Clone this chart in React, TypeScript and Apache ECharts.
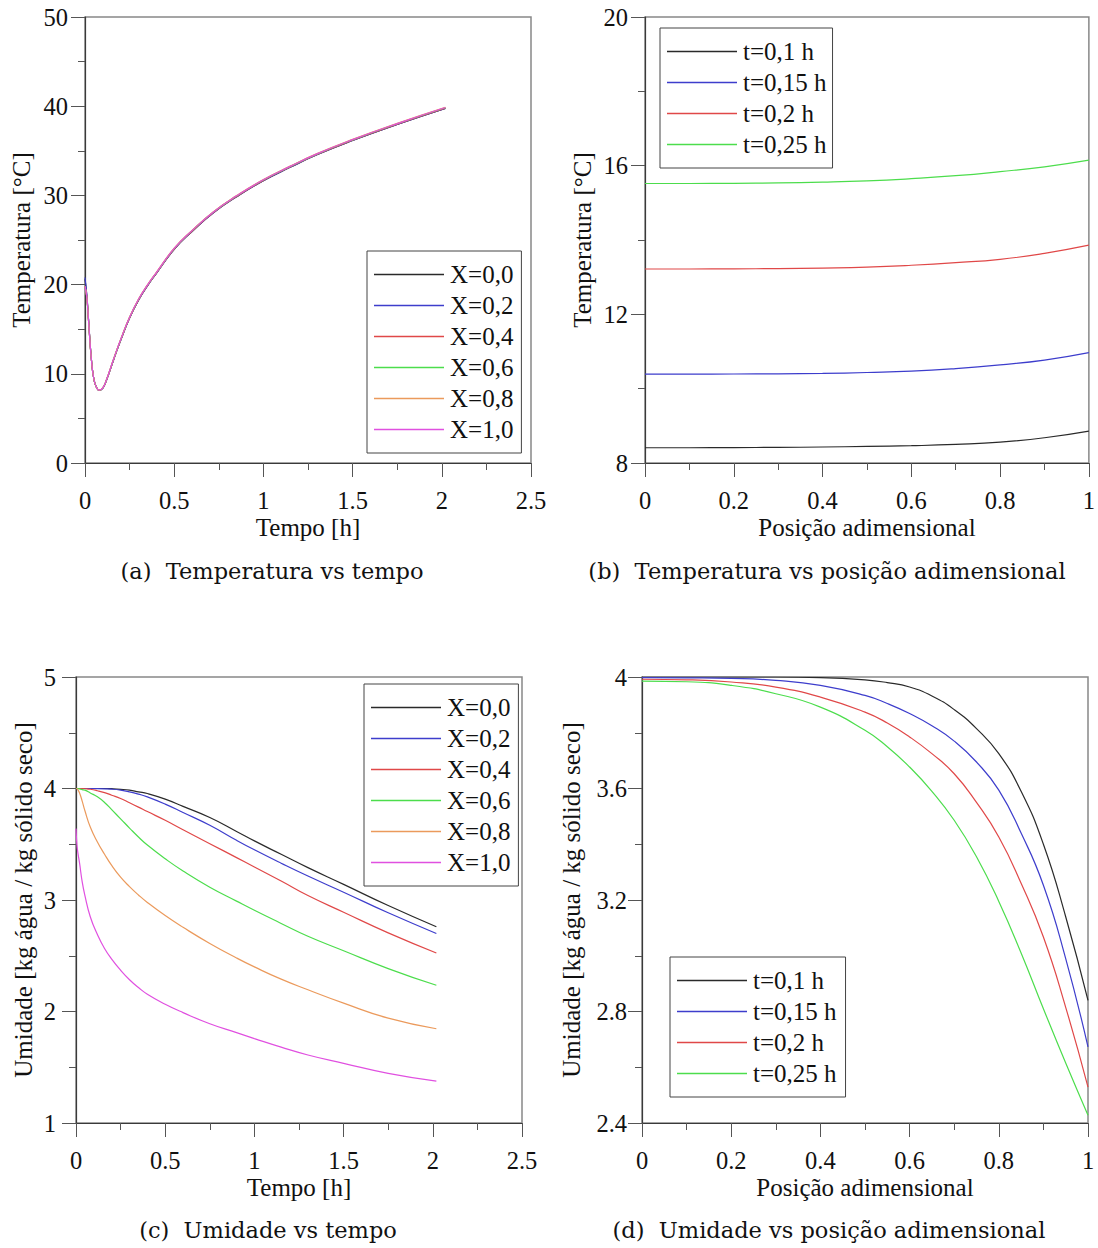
import React, { useEffect, useRef } from "react";
import * as echarts from "echarts";

// ---------- data ----------
const xNames = ["X=0,0", "X=0,2", "X=0,4", "X=0,6", "X=0,8", "X=1,0"];
const tNames = ["t=0,1 h", "t=0,15 h", "t=0,2 h", "t=0,25 h"];

// (a) Temperatura vs tempo
const tA = [0, 0.01, 0.02, 0.035, 0.05, 0.065, 0.08, 0.1, 0.12, 0.16, 0.2, 0.25, 0.3, 0.35, 0.4, 0.5, 0.6, 0.72, 0.85, 1.0, 1.15, 1.3, 1.5, 1.75, 2.02];
const tempX00 = [20.6, 18.8, 16.0, 11.8, 9.35, 8.45, 8.15, 8.4, 9.25, 11.55, 13.75, 16.25, 18.25, 19.85, 21.25, 23.95, 25.95, 28.05, 29.85, 31.65, 33.15, 34.55, 36.15, 37.95, 39.75];
const tempX02 = [20.8, 18.9, 16.1, 11.85, 9.35, 8.45, 8.15, 8.4, 9.25, 11.55, 13.75, 16.25, 18.25, 19.85, 21.25, 23.95, 25.95, 28.05, 29.85, 31.65, 33.15, 34.55, 36.15, 37.95, 39.75];
const tempX04 = [19.8, 18.6, 15.9, 11.8, 9.35, 8.45, 8.15, 8.42, 9.28, 11.58, 13.78, 16.28, 18.28, 19.88, 21.28, 23.98, 25.98, 28.08, 29.88, 31.68, 33.18, 34.58, 36.18, 37.98, 39.78];
const tempX06 = [19.8, 18.6, 15.9, 11.8, 9.36, 8.46, 8.16, 8.43, 9.3, 11.62, 13.82, 16.33, 18.33, 19.93, 21.33, 24.03, 26.03, 28.13, 29.93, 31.73, 33.23, 34.63, 36.23, 38.03, 39.83];
const tempX08 = [19.8, 18.6, 15.9, 11.8, 9.36, 8.46, 8.16, 8.44, 9.32, 11.65, 13.86, 16.38, 18.38, 19.98, 21.38, 24.08, 26.08, 28.18, 29.98, 31.78, 33.28, 34.68, 36.28, 38.08, 39.88];
const tempX10 = [19.8, 18.6, 15.9, 11.8, 9.36, 8.46, 8.16, 8.43, 9.31, 11.63, 13.84, 16.35, 18.35, 19.95, 21.35, 24.05, 26.05, 28.15, 29.95, 31.75, 33.25, 34.65, 36.25, 38.05, 39.85];

// (b) Temperatura vs posição
const xB = [0, 0.1, 0.2, 0.3, 0.4, 0.5, 0.6, 0.7, 0.8, 0.9, 1.0];
const tempT010 = [8.41, 8.41, 8.415, 8.42, 8.43, 8.445, 8.465, 8.5, 8.56, 8.68, 8.86];
const tempT015 = [10.39, 10.39, 10.395, 10.4, 10.41, 10.435, 10.47, 10.54, 10.64, 10.77, 10.97];
const tempT020 = [13.22, 13.22, 13.225, 13.23, 13.245, 13.27, 13.32, 13.39, 13.48, 13.64, 13.86];
const tempT025 = [15.52, 15.52, 15.525, 15.535, 15.555, 15.59, 15.65, 15.73, 15.84, 15.97, 16.15];

// (c) Umidade vs tempo
const tC = [0, 0.005, 0.01, 0.02, 0.035, 0.05, 0.08, 0.12, 0.16, 0.2, 0.25, 0.3, 0.35, 0.4, 0.5, 0.6, 0.75, 0.9, 1.0, 1.15, 1.3, 1.5, 1.75, 2.02];
const umX00 = [4.0, 4.0, 4.0, 4.0, 4.0, 4.0, 4.0, 4.0, 4.0, 3.998, 3.993, 3.985, 3.97, 3.955, 3.905, 3.84, 3.74, 3.615, 3.53, 3.41, 3.29, 3.14, 2.95, 2.76];
const umX02 = [4.0, 4.0, 4.0, 4.0, 4.0, 4.0, 4.0, 3.999, 3.997, 3.994, 3.985, 3.97, 3.95, 3.925, 3.86, 3.785, 3.67, 3.535, 3.45, 3.33, 3.215, 3.07, 2.885, 2.7];
const umX04 = [4.0, 4.0, 4.0, 4.0, 3.999, 3.998, 3.993, 3.98, 3.963, 3.94, 3.91, 3.872, 3.833, 3.793, 3.715, 3.63, 3.505, 3.38, 3.296, 3.17, 3.04, 2.89, 2.705, 2.525];
const umX06 = [4.0, 4.0, 3.999, 3.997, 3.99, 3.985, 3.96, 3.925, 3.875, 3.81, 3.728, 3.645, 3.565, 3.493, 3.37, 3.26, 3.115, 2.99, 2.908, 2.79, 2.675, 2.545, 2.385, 2.235];
const umX08 = [4.0, 3.998, 3.99, 3.96, 3.885, 3.8, 3.655, 3.52, 3.41, 3.31, 3.205, 3.12, 3.045, 2.978, 2.86, 2.755, 2.61, 2.48, 2.4, 2.29, 2.195, 2.075, 1.94, 1.845];
const umX10 = [3.64, 3.5, 3.43, 3.33, 3.16, 3.04, 2.85, 2.69, 2.565, 2.47, 2.37, 2.285, 2.215, 2.155, 2.065, 1.99, 1.89, 1.81, 1.757, 1.68, 1.61, 1.535, 1.445, 1.375];

// (d) Umidade vs posição
const xD = [0, 0.1, 0.2, 0.3, 0.4, 0.5, 0.55, 0.6, 0.65, 0.7, 0.75, 0.8, 0.85, 0.9, 0.95, 1.0];
const umT010 = [4.0, 4.0, 4.0, 4.0, 3.998, 3.99, 3.98, 3.964, 3.932, 3.883, 3.815, 3.725, 3.59, 3.4, 3.14, 2.84];
const umT015 = [3.998, 3.997, 3.995, 3.988, 3.97, 3.934, 3.905, 3.869, 3.825, 3.77, 3.695, 3.594, 3.44, 3.253, 2.99, 2.673];
const umT020 = [3.992, 3.99, 3.982, 3.964, 3.928, 3.874, 3.835, 3.785, 3.725, 3.653, 3.55, 3.426, 3.26, 3.067, 2.815, 2.529];
const umT025 = [3.985, 3.983, 3.97, 3.94, 3.892, 3.809, 3.75, 3.677, 3.59, 3.486, 3.355, 3.195, 3.01, 2.81, 2.615, 2.428];

const captions = [
  "(a)  Temperatura vs tempo",
  "(b)  Temperatura vs posição adimensional",
  "(c)  Umidade vs tempo",
  "(d)  Umidade vs posição adimensional",
];

// ---------- styles ----------
const SERIF = "Liberation Serif";
const CAPFONT = "DejaVu Serif";
const COLORS = ["#2a2a2a", "#3d3dcc", "#e04848", "#4cdd4c", "#eb9a5c", "#e050e0"];

function lineSeries(name: string, xs: number[], ys: number[], color: string, gi: number) {
  return {
    type: "line",
    name,
    xAxisIndex: gi,
    yAxisIndex: gi,
    data: xs.map((x, i) => [x, ys[i]]),
    showSymbol: false,
    symbol: "none",
    smooth: true,
    lineStyle: { color, width: 1.2 },
    itemStyle: { color },
    emphasis: { disabled: true },
    silent: true,
  };
}

function xAxis(gi: number, min: number, max: number, interval: number, name: string) {
  return {
    type: "value",
    gridIndex: gi,
    min,
    max,
    interval,
    name,
    nameLocation: "middle",
    nameGap: 52,
    nameTextStyle: { fontFamily: SERIF, fontSize: 25, color: "#111" },
    axisLine: { show: true, onZero: false, lineStyle: { color: "#3a3a3a", width: 1.2 } },
    axisTick: { show: true, inside: false, length: 14, lineStyle: { color: "#555", width: 1 } },
    minorTick: { show: true, splitNumber: 2, length: 7, lineStyle: { color: "#555", width: 1 } },
    axisLabel: { margin: 25, fontFamily: SERIF, fontSize: 24.5, color: "#111" },
    splitLine: { show: false },
  };
}

function yAxis(gi: number, min: number, max: number, interval: number, name: string, nameGap: number, margin: number) {
  return {
    type: "value",
    gridIndex: gi,
    min,
    max,
    interval,
    name,
    nameLocation: "middle",
    nameGap,
    nameTextStyle: { fontFamily: SERIF, fontSize: 25, color: "#111" },
    axisLine: { show: true, onZero: false, lineStyle: { color: "#3a3a3a", width: 1.2 } },
    axisTick: { show: true, inside: false, length: 14, lineStyle: { color: "#555", width: 1 } },
    minorTick: { show: true, splitNumber: 2, length: 7, lineStyle: { color: "#555", width: 1 } },
    axisLabel: { margin, fontFamily: SERIF, fontSize: 24.5, color: "#111" },
    splitLine: { show: false },
  };
}

function legend(names: string[], left: number, top: number, padRight: number) {
  return {
    orient: "vertical",
    left,
    top,
    data: names.map((n) => ({ name: n, icon: "rect" })),
    itemWidth: 70,
    itemHeight: 1.5,
    itemGap: 0,
    padding: [8, padRight, 8, 7],
    borderColor: "#444",
    borderWidth: 1,
    backgroundColor: "#fff",
    selectedMode: false,
    textStyle: { fontFamily: SERIF, fontSize: 25, color: "#111", lineHeight: 31, padding: [0, 0, 0, 1] },
  };
}

export default function App() {
  const ref = useRef<HTMLDivElement>(null);
  useEffect(() => {
    document.body.style.margin = "0";
    if (!ref.current) return;
    const chart = echarts.init(ref.current, undefined, { renderer: "svg" });
    const gridBase = { show: true, borderColor: "#888", borderWidth: 1.5, backgroundColor: "transparent" };
    const aSeries = [tempX00, tempX02, tempX04, tempX06, tempX08, tempX10];
    const cSeries = [umX00, umX02, umX04, umX06, umX08, umX10];
    const bSeries = [tempT010, tempT015, tempT020, tempT025];
    const dSeries = [umT010, umT015, umT020, umT025];
    const series: any[] = [];
    aSeries.forEach((ys, i) => series.push(lineSeries(xNames[i], tA, ys, COLORS[i], 0)));
    bSeries.forEach((ys, i) => series.push(lineSeries(tNames[i], xB, ys, COLORS[i], 1)));
    cSeries.forEach((ys, i) => series.push(lineSeries(xNames[i], tC, ys, COLORS[i], 2)));
    dSeries.forEach((ys, i) => series.push(lineSeries(tNames[i], xD, ys, COLORS[i], 3)));

    const cap = (i: number, x: number, y: number) => ({
      type: "text",
      x,
      y,
      style: { text: captions[i], fill: "#111", fontFamily: CAPFONT, fontSize: 22.5, align: "center", verticalAlign: "middle" },
    });

    const option: any = {
      animation: false,
      backgroundColor: "#fff",
      textStyle: { fontFamily: SERIF },
      grid: [
        { ...gridBase, left: 85, top: 17, width: 446, height: 446 },
        { ...gridBase, left: 645, top: 17, width: 445, height: 446 },
        { ...gridBase, left: 76, top: 677, width: 446, height: 446 },
        { ...gridBase, left: 642, top: 677, width: 446, height: 446 },
      ],
      xAxis: [
        xAxis(0, 0, 2.5, 0.5, "Tempo [h]"),
        xAxis(1, 0, 1, 0.2, "Posição adimensional"),
        xAxis(2, 0, 2.5, 0.5, "Tempo [h]"),
        xAxis(3, 0, 1, 0.2, "Posição adimensional"),
      ],
      yAxis: [
        yAxis(0, 0, 50, 10, "Temperatura [°C]", 51, 17),
        yAxis(1, 8, 20, 4, "Temperatura [°C]", 50, 17),
        yAxis(2, 1, 5, 1, "Umidade [kg água / kg sólido seco]", 40, 20),
        yAxis(3, 2.4, 4, 0.4, "Umidade [kg água / kg sólido seco]", 58, 15),
      ],
      legend: [
        legend(xNames, 367, 251, 8),
        legend(tNames, 660, 28, 6),
        legend(xNames, 364, 684, 8),
        legend(tNames, 670, 957, 9),
      ],
      graphic: [cap(0, 272, 571), cap(1, 827, 571), cap(2, 268, 1230), cap(3, 829, 1230)],
      series,
    };
    chart.setOption(option);
    return () => chart.dispose();
  }, []);
  return <div ref={ref} style={{ width: 1098, height: 1248 }} />;
}
